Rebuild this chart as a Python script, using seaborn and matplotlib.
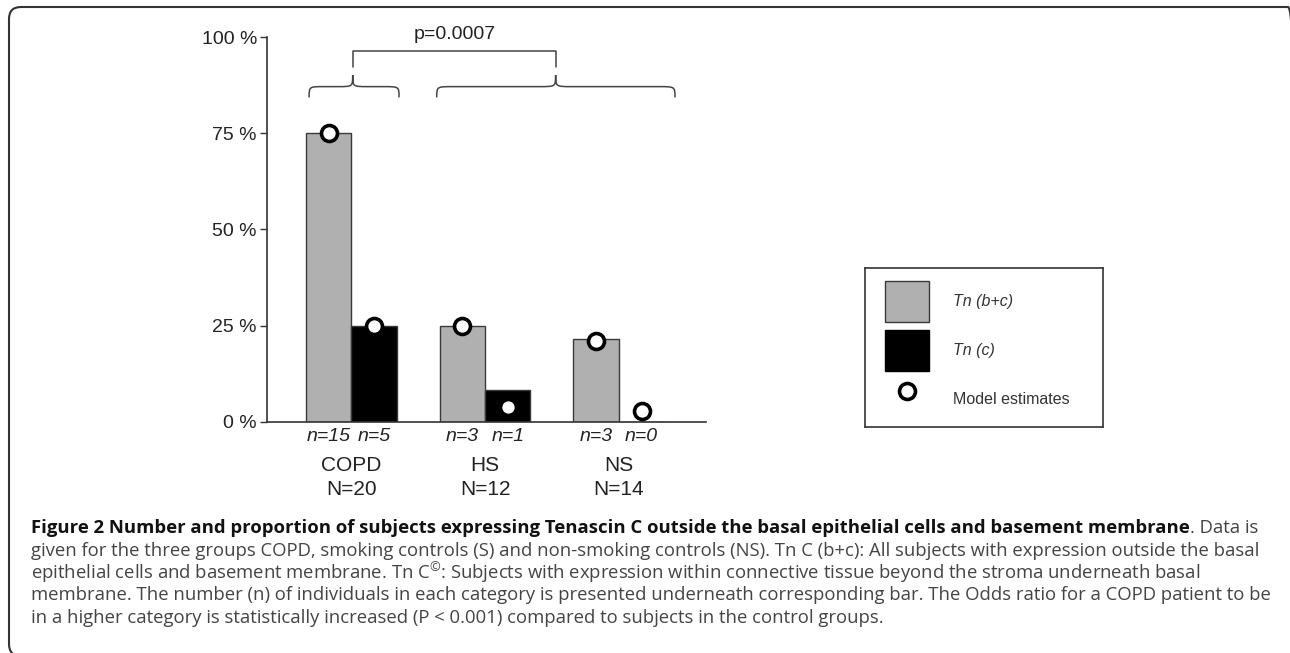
import numpy as np
import pandas as pd
import matplotlib
matplotlib.use("Agg")
import matplotlib.pyplot as plt
import seaborn as sns
from matplotlib.patches import Patch, FancyBboxPatch, PathPatch
from matplotlib.lines import Line2D
from matplotlib.path import Path
from matplotlib.transforms import IdentityTransform

# ------------------------------------------------------------------
# Data
# ------------------------------------------------------------------
groups = ["COPD", "HS", "NS"]
group_n = [20, 12, 14]
series = ["Tn (b+c)", "Tn (c)"]
pct_bc = [75.0, 25.0, 21.4]
pct_c = [25.0, 8.3, 0.0]
n_bc = [15, 3, 3]
n_c = [5, 1, 0]
model_bc = [75.0, 25.0, 21.0]
model_c = [25.0, 3.8, 2.9]
y_ticks = [0, 25, 50, 75, 100]
p_label = "p=0.0007"

caption_bold = ("Figure 2 Number and proportion of subjects expressing Tenascin C "
                "outside the basal epithelial cells and basement membrane")
caption_lines = [
    ". Data is",
    "given for the three groups COPD, smoking controls (S) and non-smoking controls (NS). "
    "Tn C (b+c): All subjects with expression outside the basal",
    "epithelial cells and basement membrane. Tn C$^\\mathregular{\u00a9}$: Subjects with "
    "expression within connective tissue beyond the stroma underneath basal",
    "membrane. The number (n) of individuals in each category is presented underneath "
    "corresponding bar. The Odds ratio for a COPD patient to be",
    "in a higher category is statistically increased (P < 0.001) compared to subjects "
    "in the control groups.",
]

GRAY = "#b0b0b0"
EDGE = "#3a3a3a"
BAR_W = 0.68
W, H = 1290, 653

sns.set_theme(style="white")
plt.rcParams["font.family"] = ["Liberation Sans", "DejaVu Sans"]

df = pd.DataFrame({
    "group": groups * 2,
    "series": [series[0]] * 3 + [series[1]] * 3,
    "pct": pct_bc + pct_c,
})

fig = plt.figure(figsize=(W / 100, H / 100), dpi=100)
ax = fig.add_axes([266.7 / W, (H - 421.7) / H, (706 - 266.7) / W, (421.7 - 37) / H])

sns.barplot(data=df, x="group", y="pct", hue="series", order=groups, hue_order=series,
            palette=[GRAY, "black"], saturation=1, width=BAR_W, gap=0, errorbar=None,
            edgecolor=EDGE, linewidth=1, legend=False, ax=ax)

x = np.arange(len(groups))
off = BAR_W / 4
ax.plot(np.r_[x - off, x + off], model_bc + model_c, "o", ls="none", ms=11.5,
        mfc="white", mec="black", mew=2.6, zorder=5, clip_on=False)

ax.set_xlim(-0.632, 2.652)
ax.set_ylim(0, 100)
ax.set_xlabel("")
ax.set_ylabel("")
ax.set_yticks(y_ticks)
ax.set_yticklabels([f"{v} %" for v in y_ticks], fontsize=14, color="#222")
ax.tick_params(axis="y", left=True, length=5, width=1, color="#333", pad=2)
ax.tick_params(axis="x", bottom=False, labelbottom=False)
for s in ["top", "right"]:
    ax.spines[s].set_visible(False)
for s in ["left", "bottom"]:
    ax.spines[s].set_color("#333")
    ax.spines[s].set_linewidth(1.2)

# n under each bar, group names and N below
for i in range(len(groups)):
    for xx, n in [(x[i] - off, n_bc[i]), (x[i] + off, n_c[i])]:
        ax.annotate(f"n={n}", xy=(xx, 0), xytext=(0, -11), textcoords="offset points",
                    ha="center", va="center", fontsize=14, style="italic", color="#222")
    ax.annotate(groups[i], xy=(x[i], 0), xytext=(0, -31.5), textcoords="offset points",
                ha="center", va="center", fontsize=15, color="#222")
    ax.annotate(f"N={group_n[i]}", xy=(x[i], 0), xytext=(0, -49), textcoords="offset points",
                ha="center", va="center", fontsize=15, color="#222")


def brace(ax, x0, x1, xt, y_end, y_mid, y_tip, w):
    verts = [(x0, y_end), (x0, y_mid), (x0, y_mid), (x0 + w, y_mid),
             (xt - w, y_mid),
             (xt, y_mid), (xt, y_mid), (xt, y_tip),
             (xt, y_mid), (xt, y_mid), (xt + w, y_mid),
             (x1 - w, y_mid),
             (x1, y_mid), (x1, y_mid), (x1, y_end)]
    codes = ([Path.MOVETO] + [Path.CURVE4] * 3 + [Path.LINETO] + [Path.CURVE4] * 6
             + [Path.LINETO] + [Path.CURVE4] * 3)
    ax.add_patch(PathPatch(Path(verts, codes), fill=False, ec="#444", lw=1.1, clip_on=False))


brace(ax, -0.315, 0.357, 0.011, 84.3, 87.1, 90.1, 0.11)
brace(ax, 0.639, 2.42, 1.528, 84.3, 87.1, 90.1, 0.12)
ax.plot([0.011, 0.011, 1.53, 1.53], [92.3, 96.4, 96.4, 92.3], color="#444", lw=1.1,
        clip_on=False)
ax.text(0.776, 100.6, p_label, ha="center", va="center", fontsize=14, color="#222",
        clip_on=False)

# legend in its own framed box
lax = fig.add_axes([865 / W, (H - 426.7) / H, 238 / W, 158.4 / H])
lax.set_xticks([])
lax.set_yticks([])
for s in lax.spines.values():
    s.set_color("#333")
    s.set_linewidth(1.2)
handles = [Patch(facecolor=GRAY, edgecolor=EDGE, lw=1),
           Patch(facecolor="black", edgecolor="black"),
           Line2D([], [], marker="o", ls="none", ms=11.5, mfc="white", mec="black", mew=2.6)]
leg = lax.legend(handles, series + ["Model estimates"], loc="upper left",
                 bbox_to_anchor=(20 / 238, 1 - 12.4 / 158.4), borderaxespad=0, borderpad=0,
                 frameon=False, prop={"size": 11.5}, handlelength=2.75, handleheight=3.57,
                 labelspacing=0.5, handletextpad=1.5, labelcolor="#333")
for t in leg.get_texts()[:2]:
    t.set_style("italic")

# caption (line 3 holds mathtext, nudged down a touch so the spacing looks even)
cap_x = 31 / W
base_y = [533, 555.5, 580, 600.5, 623]
cap_size = 13.3
t_bold = fig.text(cap_x, (H - base_y[0]) / H, caption_bold, fontsize=cap_size,
                  fontweight="bold", family="Open Sans", color="#111", va="baseline")
ax.annotate(caption_lines[0], xy=(1, 0), xycoords=t_bold, va="bottom", ha="left",
            fontsize=cap_size, family="Open Sans", color="#444", annotation_clip=False)
for line, yy in zip(caption_lines[1:], base_y[1:]):
    fig.text(cap_x, (H - yy) / H, line, fontsize=cap_size, family="Open Sans",
             color="#444", va="baseline")

# rounded frame, cut by the right and bottom edges as in the original
fig.add_artist(FancyBboxPatch((9, -3), 1291, 649, boxstyle="round,pad=0,rounding_size=12",
                              fill=False, ec="#333", lw=1.5, transform=IdentityTransform()))

fig.savefig("out.png", dpi=100)
